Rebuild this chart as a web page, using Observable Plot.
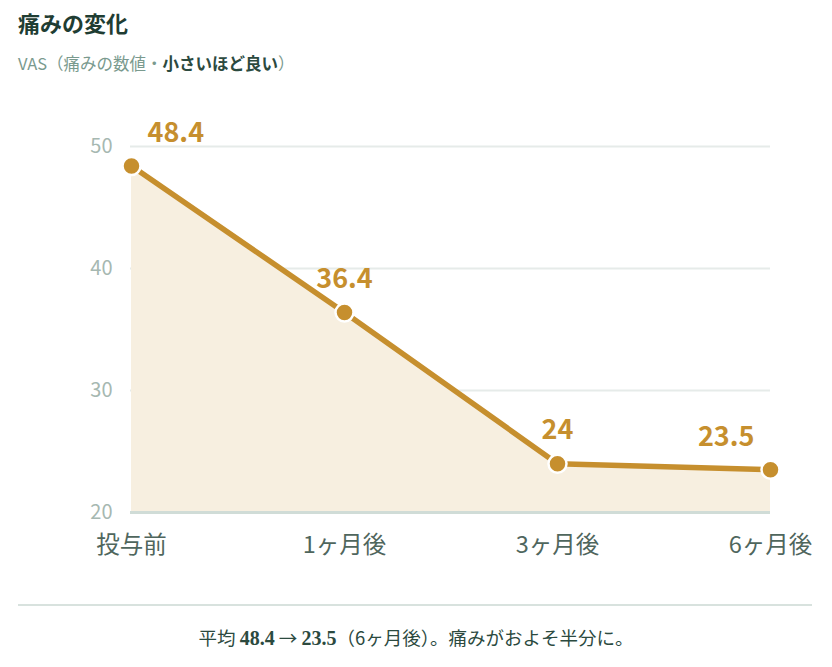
<!DOCTYPE html>
<html><head><meta charset="utf-8">
<script src="https://cdn.jsdelivr.net/npm/d3@7"></script>
<script src="https://cdn.jsdelivr.net/npm/@observablehq/plot@0.6"></script>
<style>
body{margin:0;background:#fff;font-family:"Noto Sans CJK JP","Noto Sans",sans-serif;width:832px;height:667px;overflow:hidden}
#title{position:absolute;left:18px;top:6px;font-size:22px;font-weight:700;color:#1f3d33}
#sub{position:absolute;left:18px;top:51px;font-size:16.5px;color:#7a9a8e}
#sub b{color:#2c4a3f;font-weight:700}
#chart{position:absolute;left:0;top:90px}
#hr{position:absolute;left:18px;top:604px;width:794px;height:2px;background:#d8e2de}
#cap{position:absolute;left:0;width:832px;top:624px;text-align:center;font-size:18.5px;color:#2c4a3f}
#cap b{font-family:"Liberation Serif","DejaVu Serif",serif;font-size:20px}
</style></head>
<body>
<div id="title">痛みの変化</div>
<div id="sub">VAS（痛みの数値・<b>小さいほど良い</b>）</div>
<div id="chart"></div>
<div id="hr"></div>
<div id="cap">平均 <b>48.4</b> → <b>23.5</b>（6ヶ月後）。痛みがおよそ半分に。</div>
<script>
const periods = ["投与前","1ヶ月後","3ヶ月後","6ヶ月後"];
const vas = [48.4, 36.4, 24, 23.5];
const labels = ["48.4","36.4","24","23.5"];
const yTicks = [20,30,40,50];

const data = periods.map((p,i)=>({p, v:vas[i], t:labels[i], i}));
const gold = "#c68f2e";

const chart = Plot.plot({
  width: 832, height: 482,
  marginLeft: 130, marginRight: 62, marginTop: 56, marginBottom: 60,
  style: {fontFamily: '"Noto Sans CJK JP","Noto Sans",sans-serif', background: "transparent"},
  x: {type: "point", domain: periods, padding: 0, label: null},
  y: {domain: [20, 50], label: null},
  marks: [
    Plot.ruleY(yTicks.filter(d=>d>20), {stroke: "#e6ebe9", strokeWidth: 2}),
    Plot.areaY(data, {x: "p", y1: 20, y2: "v", fill: "#f7efe0"}),
    Plot.ruleY([20], {stroke: "#d0dcd7", strokeWidth: 3}),
    Plot.axisY({ticks: yTicks, tickSize: 0, tickPadding: 18, fontSize: 20, fill: "#a6b8b1", label: null}),
    Plot.axisX({tickSize: 0, tickPadding: 24, fontSize: 23.5, fill: "#4f665d", label: null}),
    Plot.line(data, {x: "p", y: "v", stroke: gold, strokeWidth: 5.5}),
    Plot.dot(data, {x: "p", y: "v", r: 9, fill: gold, stroke: "#fff", strokeWidth: 2.5}),
    Plot.text(data.filter(d=>d.i===0), {x: "p", y: "v", text: "t", dx: 16, dy: -33, textAnchor: "start", fill: gold, fontSize: 27, fontWeight: 700}),
    Plot.text(data.filter(d=>d.i===1||d.i===2), {x: "p", y: "v", text: "t", dy: -33, fill: gold, fontSize: 27, fontWeight: 700}),
    Plot.text(data.filter(d=>d.i===3), {x: "p", y: "v", text: "t", dx: -16, dy: -32, textAnchor: "end", fill: gold, fontSize: 27, fontWeight: 700})
  ]
});
document.getElementById("chart").append(chart);
</script>
</body></html>
